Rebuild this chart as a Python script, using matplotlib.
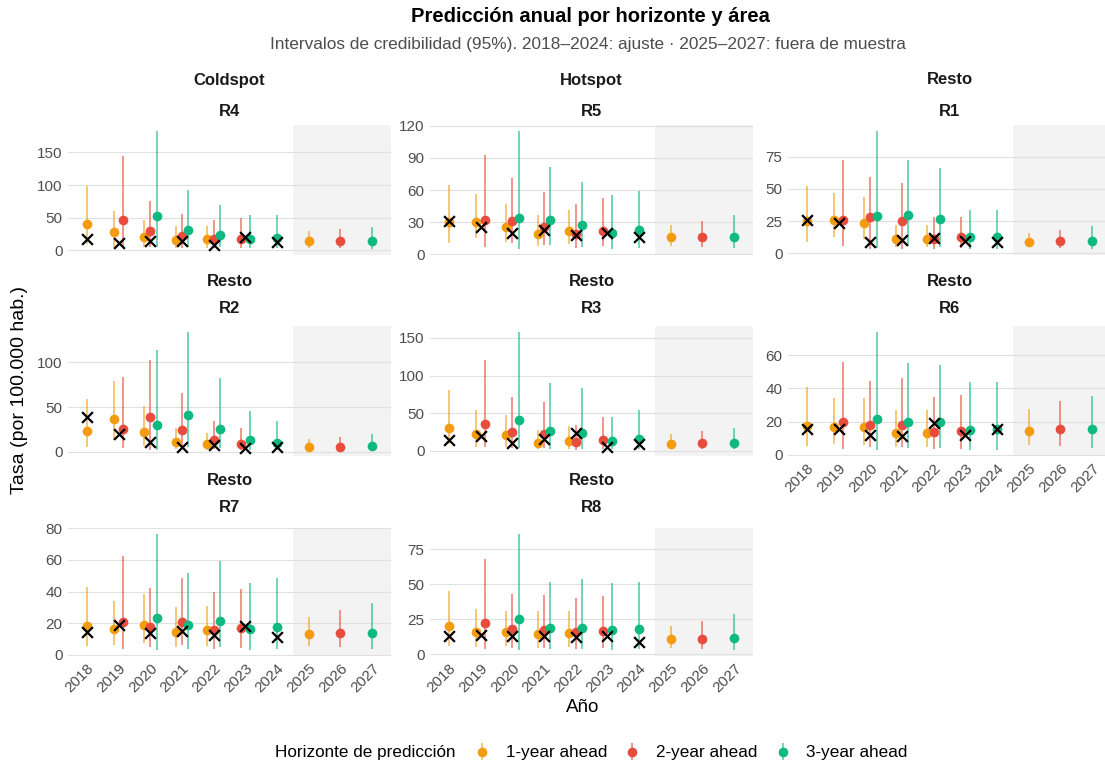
import numpy as np
import matplotlib.pyplot as plt
from matplotlib.colors import to_rgba

plt.rcParams['font.family'] = ['Liberation Sans', 'DejaVu Sans']

h1_years = [2018, 2019, 2020, 2021, 2022, 2025]
h2_years = [2019, 2020, 2021, 2022, 2023, 2026]
h3_years = [2020, 2021, 2022, 2023, 2024, 2027]
obs_years = [2018, 2019, 2020, 2021, 2022, 2023, 2024]
all_years = list(range(2018, 2028))

horizon_labels = ["1-year ahead", "2-year ahead", "3-year ahead"]
colors = ["#F39C12", "#E74C3C", "#10B981"]

# (estimate, lower, upper) per year of each horizon
R4_obs = [18, 12, 15, 15, 8, 20, 13]
R4_h1 = [(41, 10, 98), (28, 5, 60), (20, 5, 46), (16, 3, 37), (17, 3, 38), (14, 3, 30)]
R4_h2 = [(46, 5, 145), (30, 5, 76), (22, 3, 55), (17, 3, 46), (18, 4, 50), (14, 3, 33)]
R4_h3 = [(52, 5, 183), (32, 5, 92), (23, 5, 70), (18, 3, 54), (19, 3, 54), (14.5, 2, 36)]

R5_obs = [31, 26, 20, 23, 18, 20, 16]
R5_h1 = [(30, 11, 65), (30, 15, 56), (26, 12, 47), (19.5, 8, 37), (22, 10, 41), (16, 8, 27)]
R5_h2 = [(32, 7, 93), (31, 11, 71), (26, 9, 58), (19.5, 6, 47), (22, 8, 53), (16, 7, 31)]
R5_h3 = [(34, 5, 115), (32, 9, 81), (27, 7, 67), (20, 5, 55.5), (23, 6, 59), (16, 6, 37)]

R1_obs = [25.6, 24, 9, 10.7, 12, 9.4, 9]
R1_h1 = [(25, 9, 52), (26, 13, 47), (24, 11, 43.6), (11.5, 4.7, 21.7), (11.5, 5, 21.7), (9, 4.7, 15.7)]
R1_h2 = [(26, 6, 72.6), (28, 3.4, 59.5), (25, 3.4, 55), (11.5, 3.4, 28), (12.5, 4, 28), (9.7, 4, 18.5)]
R1_h3 = [(29, 4, 95), (29.5, 6, 72.6), (26.6, 4.7, 66), (13, 3.4, 34), (13, 3.4, 34), (10, 3.4, 21)]

R2_obs = [38.6, 20, 11, 5, 7.6, 4, 5]
R2_h1 = [(23.5, 5.7, 59), (37, 13, 79.5), (22.7, 7, 51), (11.4, 2.7, 27), (8.3, 2, 21.6), (5.7, 2, 14)]
R2_h2 = [(26, 4, 84), (38.6, 2, 103), (24, 4.5, 66), (13, 2.7, 35), (9, 2.3, 26.5), (6, 2, 17)]
R2_h3 = [(29.5, 2, 113.6), (41, 5.7, 134), (25.8, 4, 82), (13, 2, 46), (10, 2, 35), (6.4, 2, 19.7)]

R3_obs = [14.8, 19.7, 10, 15.7, 23.7, 4.5, 9]
R3_h1 = [(31, 9, 80.6), (22, 5.4, 54), (21, 4.5, 48), (10.7, 2.2, 28), (13.4, 2.2, 33.6), (9.4, 1.8, 23)]
R3_h2 = [(36, 4.5, 121), (25.5, 3.6, 72), (22, 3.6, 65), (12, 1, 34.5), (14.8, 2.2, 45), (9.9, 1.8, 27)]
R3_h3 = [(41, 3.6, 158), (27, 2.7, 89.6), (24, 2.7, 83), (12.5, 2.2, 45), (15.7, 2.2, 54.6), (10.7, 1.8, 31)]

R6_obs = [15.3, 15.3, 12, 11, 19.3, 11.8, 15.3]
R6_h1 = [(17.5, 5, 41), (17, 6.3, 34), (17, 6, 34), (13, 4.7, 27), (13, 4.5, 27), (14.6, 5.9, 27.5)]
R6_h2 = [(19.5, 3.3, 56), (18, 4.7, 44.3), (18, 4.7, 46), (13.8, 3.7, 34.8), (14.6, 3.5, 36), (15.3, 5.3, 32.3)]
R6_h3 = [(21.8, 3, 74), (19.7, 4, 55), (19.5, 4, 54.3), (14.8, 2.8, 43.7), (15.3, 2.8, 44), (15.7, 4.3, 35.6)]

R7_obs = [14.4, 19, 13.8, 14.8, 12.3, 18, 11]
R7_h1 = [(18.4, 5.4, 43), (16.5, 6.5, 34), (19, 7.3, 38.4), (14.4, 5, 30.5), (15.7, 5.4, 31), (13.4, 5.4, 24)]
R7_h2 = [(20.7, 4, 62.4), (17.7, 5, 42.4), (20.7, 6, 48.6), (15.7, 3.8, 40), (17, 4.4, 41.7), (13.6, 4.8, 28.6)]
R7_h3 = [(23, 3, 76.4), (19, 4, 51.8), (21.5, 4.8, 59.3), (16.5, 3.3, 45.5), (17.7, 4, 48.6), (14, 3.5, 32.6)]

R8_obs = [13.2, 13.7, 13.2, 13.2, 12.3, 13, 8.5]
R8_h1 = [(19.9, 6, 45.4), (15.6, 5.4, 32), (15.6, 6, 31), (14.4, 4.7, 30.5), (15, 5.2, 31), (10.6, 4.5, 19.9)]
R8_h2 = [(22.5, 4, 68), (17.7, 4.7, 43.3), (17.3, 4.7, 42), (15.8, 4, 40), (16.6, 4.3, 41.4), (11.1, 3.3, 23.7)]
R8_h3 = [(25.3, 3, 86), (18.7, 3.5, 51.8), (18.7, 3.5, 54), (17.3, 3, 51), (18, 3.5, 51.3), (11.6, 2.8, 28.4)]

# panel: area, region, observed, horizons, y ticks
panels = [
    ("Coldspot", "R4", R4_obs, [R4_h1, R4_h2, R4_h3], [0, 50, 100, 150]),
    ("Hotspot", "R5", R5_obs, [R5_h1, R5_h2, R5_h3], [0, 30, 60, 90, 120]),
    ("Resto", "R1", R1_obs, [R1_h1, R1_h2, R1_h3], [0, 25, 50, 75]),
    ("Resto", "R2", R2_obs, [R2_h1, R2_h2, R2_h3], [0, 50, 100]),
    ("Resto", "R3", R3_obs, [R3_h1, R3_h2, R3_h3], [0, 50, 100, 150]),
    ("Resto", "R6", R6_obs, [R6_h1, R6_h2, R6_h3], [0, 20, 40, 60]),
    ("Resto", "R7", R7_obs, [R7_h1, R7_h2, R7_h3], [0, 20, 40, 60, 80]),
    ("Resto", "R8", R8_obs, [R8_h1, R8_h2, R8_h3], [0, 25, 50, 75]),
]

W, H = 1105, 769
fig = plt.figure(figsize=(W / 100, H / 100), dpi=100)

cols = [(68, 391), (430, 753), (788, 1111)]
rows = [(125, 255), (326, 456), (528, 656)]
strip_y = [(80, 111), (281, 309), (480, 507)]
horizon_years = [h1_years, h2_years, h3_years]


def dodge(year, k):
    present = [j for j, ys in enumerate(horizon_years) if year in ys]
    n = len(present)
    i = present.index(k)
    return (i - (n - 1) / 2) * 0.6 / n


handles = None
for idx, (area, region, obs, hs, yt) in enumerate(panels):
    r, c = divmod(idx, 3)
    x0, x1 = cols[c]
    yt0, yb0 = rows[r]
    ax = fig.add_axes([x0 / W, 1 - yb0 / H, (x1 - x0) / W, (yb0 - yt0) / H])
    ax.axvspan(2024.5, 2028, color="#f3f3f3", zorder=0, lw=0)
    conts = []
    for k, (h, ys) in enumerate(zip(hs, horizon_years)):
        xs = np.array([y + dodge(y, k) for y in ys])
        pt = np.array([v[0] for v in h])
        lo = np.array([v[1] for v in h])
        hi = np.array([v[2] for v in h])
        cont = ax.errorbar(xs, pt, yerr=[pt - lo, hi - pt], fmt="o", color=colors[k],
                           ecolor=to_rgba(colors[k], 0.75), elinewidth=1.1, capsize=0,
                           markersize=7, markeredgewidth=0, zorder=3,
                           label=horizon_labels[k])
        conts.append(cont)
    if handles is None:
        handles = conts
    ax.scatter(obs_years, obs, marker="x", color="black", s=60, linewidths=1.6, zorder=5)

    vals = [v for h in hs for t in h for v in t] + list(obs)
    lo_all, hi_all = min(vals), max(vals)
    span = hi_all - lo_all
    ax.set_ylim(lo_all - 0.05 * span, hi_all + 0.05 * span)
    ax.set_xlim(2017.4, 2027.6)
    ax.set_yticks(yt)
    ax.grid(axis="y", color="#e0e0e0", lw=0.8)
    ax.set_axisbelow(True)
    for s in ax.spines.values():
        s.set_visible(False)
    ax.tick_params(length=0, labelsize=11, labelcolor="#4d4d4d", pad=4)
    ax.set_xticks(all_years)
    bottom = (r == 2) or (r == 1 and c == 2)
    if bottom:
        ax.set_xticklabels([str(y) for y in all_years], rotation=45, ha="right",
                           rotation_mode="anchor")
    else:
        ax.set_xticklabels([])

    cx = (x0 + x1) / 2 / W if c < 2 else (x0 + 1105) / 2 / W + 0.003
    fig.text(cx, 1 - strip_y[r][0] / H, area, ha="center", va="center",
             fontsize=12, fontweight="bold", color="#1a1a1a")
    fig.text(cx, 1 - strip_y[r][1] / H, region, ha="center", va="center",
             fontsize=12, fontweight="bold", color="#1a1a1a")

fig.text(590 / W, 1 - 17 / H, "Predicción anual por horizonte y área", ha="center",
         va="center", fontsize=14.5, fontweight="bold")
fig.text(588 / W, 1 - 45 / H,
         "Intervalos de credibilidad (95%). 2018–2024: ajuste · 2025–2027: fuera de muestra",
         ha="center", va="center", fontsize=12.4, color="#4d4d4d")
fig.text(583 / W, 1 - 708 / H, "Año", ha="center", va="center", fontsize=13.5)
fig.text(20 / W, 1 - 390 / H, "Tasa (por 100.000 hab.)", ha="center", va="center",
         rotation=90, fontsize=14)

fig.text(275 / W, 1 - 753 / H, "Horizonte de predicción", ha="left", va="center",
         fontsize=12.3)
fig.legend(handles, horizon_labels, loc="center", bbox_to_anchor=(690 / W, 1 - 753 / H),
           ncol=3, frameon=False, fontsize=12.3, handlelength=1.2, handletextpad=0.8,
           columnspacing=0.85)

fig.savefig("out.png", dpi=100)
